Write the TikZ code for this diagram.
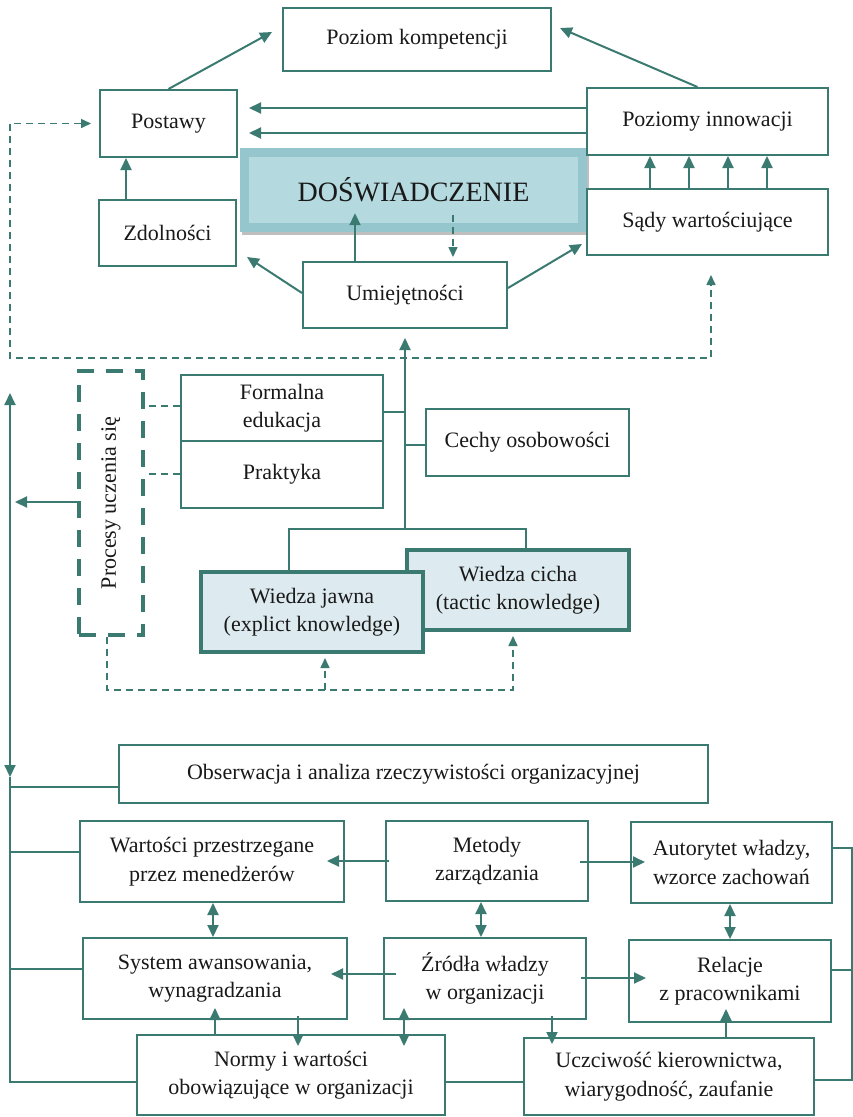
\documentclass[tikz,border=0pt]{standalone}
\usepackage{fontspec}
\setmainfont{Liberation Serif}
\usetikzlibrary{arrows.meta,shadows,calc}
\definecolor{teal1}{RGB}{58,122,112}
\definecolor{doswout}{RGB}{150,198,205}
\definecolor{doswin}{RGB}{180,217,223}
\definecolor{wfill}{RGB}{221,235,240}
\tikzset{
 box/.style={draw=teal1, line width=2pt, fill=white, align=center, inner sep=2pt, font=\fontsize{22}{28.5}\selectfont, text=black!90},
 wbox/.style={box, line width=4pt, fill=wfill},
 con/.style={draw=teal1, line width=2pt},
 arr/.style={con, -{Triangle[length=12pt,width=11pt]}},
 darr/.style={con, {Triangle[length=12pt,width=11pt]}-{Triangle[length=12pt,width=11pt]}},
 dashline/.style={draw=teal1, line width=1.6pt, dash pattern=on 7pt off 5pt},
 dasharr/.style={dashline, -{Triangle[length=10pt,width=9pt]}},
}
\begin{document}
\begin{tikzpicture}[x=1pt,y=-1pt]
\useasboundingbox (0,0) rectangle (853,1117);
% central box
\node[draw=none, fill=doswout, drop shadow={shadow xshift=2pt,shadow yshift=-3pt,opacity=0.25,fill=black},
  minimum width=347pt, minimum height=84pt, inner sep=0pt,
  path picture={\fill[doswin] ($(path picture bounding box.north west)+(9,9)$) rectangle ($(path picture bounding box.south east)+(-9,-9)$);},
  font=\fontsize{28}{32}\selectfont, text=black!90] (dosw) at (413.5,190) {DOŚWIADCZENIE};
% top boxes
\node[box, minimum width=268pt, minimum height=63pt] (komp) at (417,39.5) {Poziom kompetencji};
\node[box, minimum width=137pt, minimum height=67pt] (postawy) at (168.5,123.5) {Postawy};
\node[box, minimum width=137pt, minimum height=66pt] (zdol) at (167.5,233) {Zdolności};
\node[box, minimum width=241pt, minimum height=67pt] (pinn) at (707.5,121.5) {Poziomy innowacji};
\node[box, minimum width=241pt, minimum height=66pt] (sady) at (707.5,222) {Sądy wartościujące};
\node[box, minimum width=204pt, minimum height=66pt] (umiej) at (405,295) {Umiejętności};
% middle
\node[box, minimum width=202pt, minimum height=66pt] (formal) at (282,408) {Formalna\\edukacja};
\node[box, minimum width=202pt, minimum height=67pt] (prakt) at (282,474.5) {Praktyka};
\node[box, minimum width=203pt, minimum height=67pt] (cechy) at (527.5,442.5) {Cechy osobowości};
\node[wbox, minimum width=222pt, minimum height=80pt] (cicha) at (518,590) {Wiedza cicha\\(tactic knowledge)};
\node[wbox, minimum width=222pt, minimum height=80pt] (jawna) at (312,612) {Wiedza jawna\\(explict knowledge)};
\node[box, fill=none, line width=4pt, dash pattern=on 17pt off 12pt, minimum width=64pt, minimum height=264pt] (procesy) at (111,503) {\rotatebox{90}{Procesy uczenia się}};
% bottom
\node[box, minimum width=589pt, minimum height=58pt] (obs) at (413.5,774) {Obserwacja i analiza rzeczywistości organizacyjnej};
\node[box, minimum width=264pt, minimum height=81pt] (wart) at (212,861.5) {Wartości przestrzegane\\przez menedżerów};
\node[box, minimum width=202pt, minimum height=80pt] (metody) at (487,861) {Metody\\zarządzania};
\node[box, minimum width=201pt, minimum height=81pt] (autor) at (731.5,862.5) {Autorytet władzy,\\wzorce zachowań};
\node[box, minimum width=264pt, minimum height=81pt] (system) at (215,978.5) {System awansowania,\\wynagradzania};
\node[box, minimum width=202pt, minimum height=81pt] (zrodla) at (485,978.5) {Źródła władzy\\w organizacji};
\node[box, minimum width=202pt, minimum height=82pt] (relacje) at (730,981) {Relacje\\z pracownikami};
\node[box, minimum width=308pt, minimum height=80pt] (normy) at (291,1075) {Normy i wartości\\obowiązujące w organizacji};
\node[box, minimum width=290pt, minimum height=77pt] (uczc) at (669,1076.5) {Uczciwość kierownictwa,\\wiarygodność, zaufanie};
% coordinates
\coordinate (kompL) at (272,32);
\coordinate (kompR) at (560,28);
\coordinate (zdolT) at (247,257);
\coordinate (sadyT) at (582,244);
\coordinate (trunk) at (405,529);
\coordinate (procL) at (15,502);
\coordinate (jbr) at (325,690);
\coordinate (busT) at (10,393);
\coordinate (busM) at (10,777);
\coordinate (busB) at (10,1082);
\coordinate (rbT) at (852,848);
\coordinate (rbB) at (852,1080);
% top connectors
\draw[arr] (postawy.north) -- (kompL);
\draw[arr] ([xshift=-10pt]pinn.north) -- (kompR);
\draw[arr, shorten >=11pt] (pinn.west |- 0,108) -- (postawy.east |- 0,108);
\draw[arr, shorten >=11pt] (pinn.west |- 0,133) -- (postawy.east |- 0,133);
\draw[arr] (zdol.north -| 126,0) -- (postawy.south -| 126,0);
\draw[arr] (umiej.west |- 0,293) -- (zdolT);
\draw[arr] (umiej.east |- 0,288) -- (sadyT);
\draw[arr, shorten >=-19pt] (umiej.north -| 355,0) -- (dosw.south -| 355,0);
\draw[dasharr, shorten <=-17pt, shorten >=4pt] (dosw.south -| 453,0) -- (umiej.north -| 453,0);
\foreach \xx in {650,689,728,767} \draw[arr] (sady.north -| \xx,0) -- (pinn.south -| \xx,0);
\draw[dashline, {Triangle[length=10pt,width=9pt]}-{Triangle[length=10pt,width=9pt]}, shorten <=8pt, shorten >=19pt]
  (postawy.west) -| (10,358) -| (sady.south -| 711,0);
% tree to Umiejetnosci
\draw[arr, shorten >=9pt] (trunk) -- (umiej.south);
\draw[con] (jawna.north -| 289,0) |- (trunk);
\draw[con] (cicha.north -| 526,0) |- (trunk);
\draw[con, line width=1.5pt] (formal.east |- 0,412) -- (trunk |- 0,412);
\draw[con, line width=1.5pt] (cechy.west |- 0,445) -- (trunk |- 0,445);
% Procesy
\draw[dashline] (formal.west |- 0,406) -- (procesy.east |- 0,406);
\draw[dashline] (prakt.west |- 0,474) -- (procesy.east |- 0,474);
\draw[arr] (procesy.west |- 0,502) -- (procL);
\draw[dasharr, shorten >=4pt] (procesy.south -| 107,0) |- (513,690) -- (cicha.south -| 513,0);
\draw[dasharr, shorten >=4pt] (jbr) -- (jawna.south -| 325,0);
% left bus
\draw[darr] (busT) -- (busM);
\draw[con] (busM) -- (busB) -- (normy.west |- busB);
\draw[con] (10,787) -- (obs.west |- 0,787);
\draw[con] (10,852) -- (wart.west |- 0,852);
\draw[con] (10,969) -- (system.west |- 0,969);
% right bracket
\draw[con] (autor.east |- rbT) -- (rbT) -- (rbB) -- (uczc.east |- rbB);
\draw[con] (relacje.east |- 0,970) -- (852,970);
% bottom arrows
\draw[arr, shorten <=-4pt, shorten >=-18pt] (metody.west |- 0,861) -- (wart.east |- 0,861);
\draw[arr, shorten <=-9pt, shorten >=-15pt] (metody.east |- 0,862) -- (autor.west |- 0,862);
\draw[arr, shorten <=-13pt, shorten >=-17pt] (zrodla.west |- 0,974) -- (system.east |- 0,974);
\draw[arr, shorten <=-6pt, shorten >=-18pt] (zrodla.east |- 0,978) -- (relacje.west |- 0,978);
\draw[darr] (wart.south -| 213,0) -- (system.north -| 213,0);
\draw[darr] (metody.south -| 481,0) -- (zrodla.north -| 481,0);
\draw[darr] (autor.south -| 730,0) -- (relacje.north -| 730,0);
\draw[arr, shorten >=-12pt] (normy.north -| 215,0) -- (system.south -| 215,0);
\draw[arr, shorten <=-4pt, shorten >=-12pt] (system.south -| 298,0) -- (normy.north -| 298,0);
\draw[darr, shorten <=-12pt, shorten >=-12pt] (zrodla.south -| 404,0) -- (normy.north -| 404,0);
\draw[arr, shorten <=-4pt, shorten >=-7pt] (zrodla.south -| 552,0) -- (uczc.north -| 552,0);
\draw[arr, shorten >=-14pt] (uczc.north -| 726,0) -- (relacje.south -| 726,0);
\draw[con] (normy.east |- 0,1082) -- (uczc.west |- 0,1082);
\end{tikzpicture}
\end{document}
